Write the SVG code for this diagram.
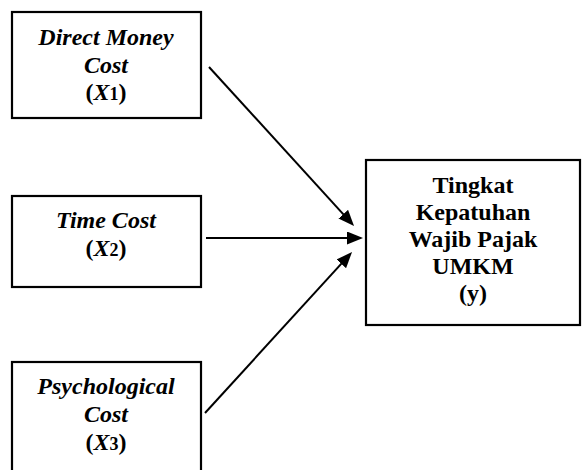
<svg xmlns="http://www.w3.org/2000/svg" width="582" height="470" viewBox="0 0 582 470">
<style>
.box{fill:#fff;stroke:#000;stroke-width:2.2}
.t{font-family:"Liberation Serif","Times New Roman",serif;font-size:24px;font-weight:bold;text-anchor:middle;fill:#000}
.i{font-style:italic}
.sub{font-style:normal;font-size:18px}
.con{stroke:#000;stroke-width:2;fill:none;marker-end:url(#ah)}
</style>
<defs>
<marker id="ah" markerUnits="userSpaceOnUse" markerWidth="17" markerHeight="13" refX="6" refY="6.5" orient="auto">
<path d="M0,0 L16,6.5 L0,13 z" fill="#000"/>
</marker>
</defs>
<rect width="582" height="470" fill="#fff"/>
<g id="x1">
<rect class="box" x="12" y="12" width="189" height="106"/>
<text class="t i" x="106" y="45">Direct Money</text>
<text class="t i" x="106" y="73">Cost</text>
<text class="t" x="106" y="100">(<tspan class="i">X</tspan><tspan class="sub">1</tspan>)</text>
</g>
<g id="x2">
<rect class="box" x="12" y="196" width="189" height="91"/>
<text class="t i" x="106" y="228">Time Cost</text>
<text class="t" x="106" y="256">(<tspan class="i">X</tspan><tspan class="sub">2</tspan>)</text>
</g>
<g id="x3">
<rect class="box" x="12" y="362" width="189" height="112"/>
<text class="t i" x="106" y="394">Psychological</text>
<text class="t i" x="106" y="422">Cost</text>
<text class="t" x="106" y="450">(<tspan class="i">X</tspan><tspan class="sub">3</tspan>)</text>
</g>
<g id="y">
<rect class="box" x="366" y="160" width="214" height="165"/>
<text class="t" x="473" y="193">Tingkat</text>
<text class="t" x="473" y="220">Kepatuhan</text>
<text class="t" x="473" y="247">Wajib Pajak</text>
<text class="t" x="473" y="274">UMKM</text>
<text class="t" x="473" y="301">(y)</text>
</g>
<g id="connectors">
<line class="con" x1="209" y1="67" x2="347.3" y2="218.6"/>
<line class="con" x1="206" y1="238" x2="353" y2="238"/>
<line class="con" x1="205" y1="413" x2="345.3" y2="259.4"/>
</g>
</svg>
